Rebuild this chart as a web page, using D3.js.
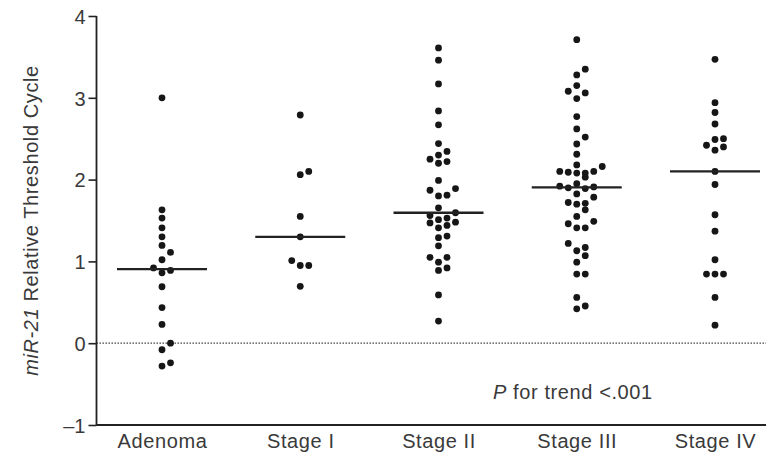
<!DOCTYPE html>
<html>
<head>
<meta charset="utf-8">
<script src="https://cdn.jsdelivr.net/npm/d3@7"></script>
<style>
  html, body { margin: 0; padding: 0; background: #ffffff; }
  svg { display: block; }
  text { font-family: "Liberation Sans", Arial, Helvetica, sans-serif; fill: #3a3a3a; }
</style>
</head>
<body>
<svg id="chart" width="766" height="456"></svg>
<script>
// ---- data ----
const categories = ["Adenoma", "Stage I", "Stage II", "Stage III", "Stage IV"];
const adenoma = [3.00, 1.63, 1.53, 1.41, 1.30, 1.195, 1.11, 1.02, 0.92, 0.89, 0.86, 0.69, 0.435, 0.23, 0.00, -0.08, -0.24, -0.28];
const stageI = [2.79, 2.10, 2.06, 1.55, 1.30, 1.01, 0.95, 0.95, 0.695];
const stageII = [3.61, 3.46, 3.17, 2.84, 2.67, 2.44, 2.345, 2.30, 2.25, 2.22, 2.20, 1.99, 1.89, 1.87, 1.81, 1.80,
                 1.655, 1.595, 1.56, 1.53, 1.51, 1.48, 1.47, 1.44, 1.41, 1.31, 1.29, 1.19, 1.05, 1.05, 0.99, 0.92, 0.89, 0.59, 0.27];
const stageIII = [3.71, 3.35, 3.28, 3.15, 3.08, 3.06, 2.99, 2.77, 2.62, 2.52, 2.435, 2.31, 2.18, 2.16, 2.10, 2.09, 2.08, 2.08, 2.10,
                  2.03, 1.95, 1.92, 1.91, 1.90, 1.89, 1.825, 1.785, 1.72, 1.71, 1.70, 1.63, 1.55, 1.49, 1.46, 1.41, 1.41,
                  1.22, 1.17, 1.13, 1.07, 0.99, 0.845, 0.845, 0.56, 0.455, 0.42];
const stageIV = [3.47, 2.94, 2.82, 2.68, 2.50, 2.49, 2.42, 2.40, 2.36, 2.10, 1.94, 1.57, 1.37, 1.02, 0.845, 0.845, 0.845, 0.56, 0.22];
const seriesValues = [adenoma, stageI, stageII, stageIII, stageIV];
const yTicks = [-1, 0, 1, 2, 3, 4];
const yTitleItalic = "miR-21";
const yTitleRest = " Relative Threshold Cycle";
const annotation = { italic: "P", rest: " for trend <.001" };

// ---- layout ----
const svg = d3.select("#chart");
const axisX = 96.5, axisBottom = 425, axisTop = 16, rightEdge = 766;
const y = d3.scaleLinear().domain([-1, 4]).range([axisBottom, axisTop]);
const x = d3.scalePoint().domain(categories).range([162, 715]);
const colStep = 8.5, rowH = 8, dotR = 3.4, medianHalf = 45;
const fontSize = "20px", letterSp = "0.6px";

// beeswarm-like layout: group ascending values into rows, spread within row 0,+1,-1,+2,-2...
function swarm(values) {
  const sorted = values.map((v, i) => ({ v, i })).sort((a, b) => a.v - b.v);
  const out = [];
  let row = [], rowStartPx = null;
  const flush = () => {
    row.forEach((d, k) => {
      const off = k === 0 ? 0 : (k % 2 === 1 ? (k + 1) / 2 : -k / 2);
      out.push({ v: d.v, off });
    });
    row = [];
  };
  sorted.forEach(d => {
    const py = y(d.v);
    if (rowStartPx === null || rowStartPx - py > rowH) { flush(); rowStartPx = py; }
    row.push(d);
  });
  flush();
  return out;
}

// dotted zero line
svg.append("line")
  .attr("x1", axisX).attr("x2", rightEdge)
  .attr("y1", y(0)).attr("y2", y(0))
  .attr("stroke", "#333").attr("stroke-width", 1.3)
  .attr("stroke-dasharray", "1.4,1.6");

// y axis
const yAxis = d3.axisLeft(y).tickValues(yTicks).tickSize(8).tickPadding(3)
  .tickFormat(d => d < 0 ? "\u2013" + Math.abs(d) : String(d));
const gy = svg.append("g").attr("transform", `translate(${axisX},0)`).call(yAxis);
gy.select(".domain").remove();
gy.selectAll(".tick line").attr("stroke", "#222").attr("stroke-width", 1.6);
gy.selectAll(".tick text").style("font-size", fontSize).attr("fill", "#3a3a3a").attr("dy", "0.36em");
svg.append("line").attr("x1", axisX).attr("x2", axisX).attr("y1", axisTop).attr("y2", axisBottom + 0.8)
  .attr("stroke", "#222").attr("stroke-width", 1.8);

// x axis
svg.append("line").attr("x1", axisX).attr("x2", rightEdge).attr("y1", axisBottom).attr("y2", axisBottom)
  .attr("stroke", "#222").attr("stroke-width", 1.8);
const xAxis = d3.axisBottom(x).tickSize(0).tickPadding(9);
const gx = svg.append("g").attr("transform", `translate(0,${axisBottom})`).call(xAxis);
gx.select(".domain").remove();
gx.selectAll(".tick text").style("font-size", fontSize).style("letter-spacing", letterSp).attr("fill", "#3a3a3a");

// y title
const title = svg.append("text")
  .attr("transform", `translate(38,${(axisTop + axisBottom) / 2}) rotate(-90)`)
  .attr("text-anchor", "middle")
  .style("font-size", fontSize).style("letter-spacing", letterSp);
title.append("tspan").style("font-style", "italic").text(yTitleItalic);
title.append("tspan").text(yTitleRest);

// dots and medians
categories.forEach((c, ci) => {
  const vals = seriesValues[ci];
  const pts = swarm(vals);
  const cx = x(c);
  svg.append("g").selectAll("circle").data(pts).join("circle")
    .attr("cx", d => cx + d.off * colStep)
    .attr("cy", d => y(d.v))
    .attr("r", dotR)
    .attr("fill", "#161616");
  const med = d3.median(vals);
  svg.append("line")
    .attr("x1", cx - medianHalf).attr("x2", cx + medianHalf)
    .attr("y1", y(med)).attr("y2", y(med))
    .attr("stroke", "#222").attr("stroke-width", 2.4);
});

// annotation
const ann = svg.append("text").attr("x", 493).attr("y", 399).style("font-size", fontSize).style("letter-spacing", letterSp);
ann.append("tspan").style("font-style", "italic").text(annotation.italic);
ann.append("tspan").text(annotation.rest);
</script>
</body>
</html>
